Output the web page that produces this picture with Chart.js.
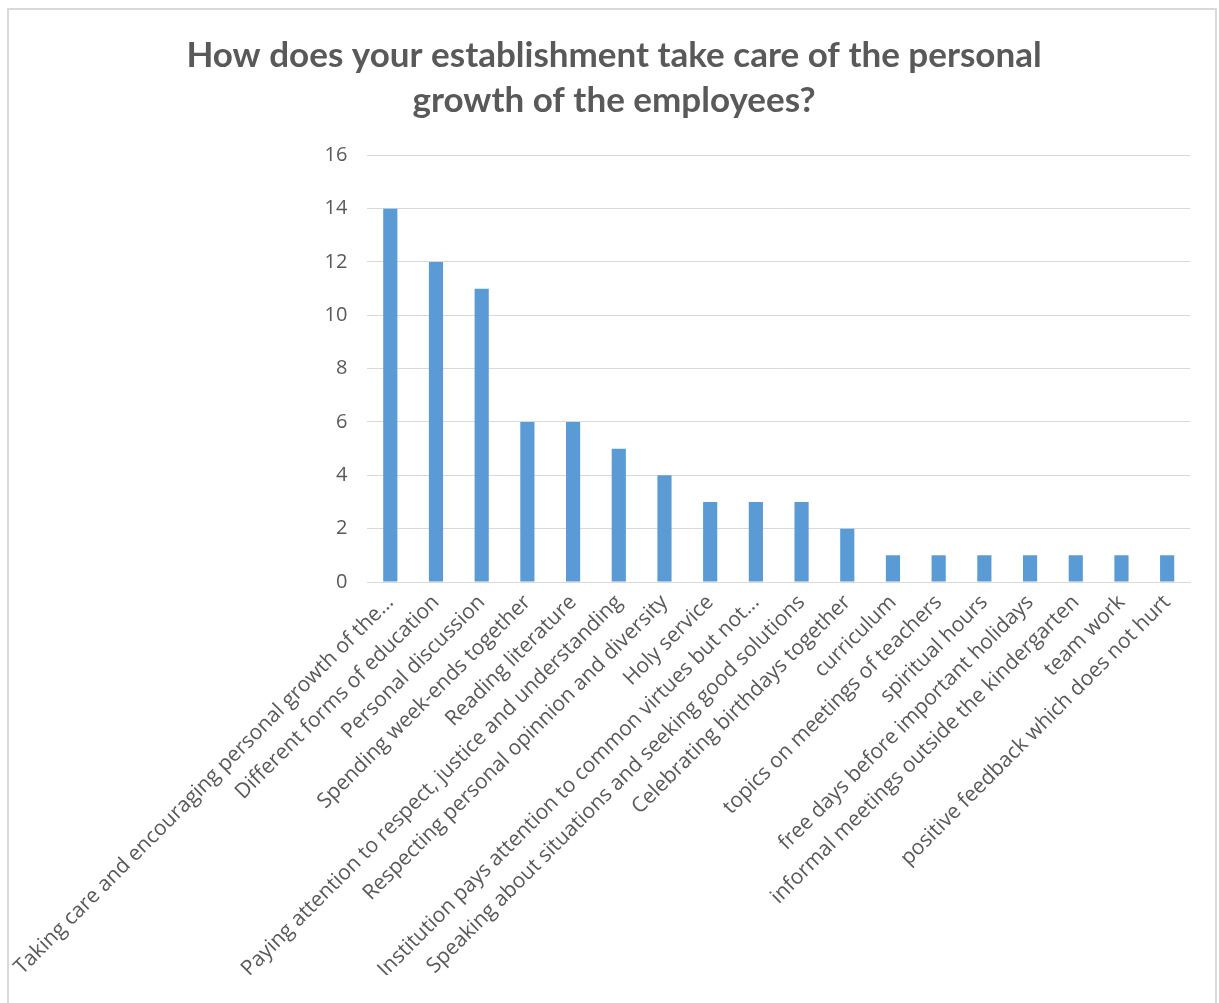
<!DOCTYPE html>
<html>
<head>
<meta charset="utf-8">
<script src="https://cdn.jsdelivr.net/npm/chart.js@4/dist/chart.umd.min.js"></script>
<style>
  html, body { margin: 0; padding: 0; background: #ffffff; }
  #wrap { position: relative; width: 1219px; height: 1003px; overflow: hidden; }
  #frame { position: absolute; left: 7px; top: 8px; width: 1210px; height: 1100px; border: 2px solid #d9d9d9; box-sizing: border-box; }
  canvas { position: absolute; left: 0; top: 0; }
</style>
</head>
<body>
<div id="wrap">
  <div id="frame"></div>
  <canvas id="c" width="1219" height="1003"></canvas>
</div>
<script>
const titleLines = ["How does your establishment take care of the personal", "growth of the employees?"];
const categories = [
  "Taking care and encouraging personal growth of the...",
  "Different forms of education",
  "Personal discussion",
  "Spending week-ends together",
  "Reading literature",
  "Paying attention to respect, justice and understanding",
  "Respecting personal opinnion and diversity",
  "Holy service",
  "Institution pays attention to common virtues but not...",
  "Speaking about situations and seeking good solutions",
  "Celebrating birthdays together",
  "curriculum",
  "topics on meetings of teachers",
  "spiritual hours",
  "free days before important holidays",
  "informal meetings outside the kindergarten",
  "team work",
  "positive feedback which does not hurt"
];
const counts = [14, 12, 11, 6, 6, 5, 4, 3, 3, 3, 2, 1, 1, 1, 1, 1, 1, 1];
const yTicks = [0, 2, 4, 6, 8, 10, 12, 14, 16];

new Chart(document.getElementById('c'), {
  type: 'bar',
  data: {
    labels: categories,
    datasets: [{
      data: counts,
      backgroundColor: '#5b9bd5',
      borderWidth: 0,
      barPercentage: 0.31,
      categoryPercentage: 1.0
    }]
  },
  options: {
    responsive: false,
    animation: false,
    layout: { padding: { top: 12, right: 29, bottom: 28, left: 38 } },
    plugins: {
      legend: { display: false },
      tooltip: { enabled: false },
      title: {
        display: true,
        text: titleLines,
        color: '#595959',
        font: { family: 'Lato', size: 35, weight: 'bold', lineHeight: 1.29 },
        padding: { top: 21, bottom: 32 }
      }
    },
    scales: {
      x: {
        grid: { display: false, drawTicks: false },
        border: { color: '#d9d9d9', width: 1 },
        afterFit: (axis) => { axis.height = 393; },
        ticks: {
          color: '#595959',
          font: { family: 'Open Sans', size: 21 },
          minRotation: 45,
          maxRotation: 45,
          autoSkip: false,
          padding: 8
        }
      },
      y: {
        min: 0,
        max: 16,
        afterBuildTicks: (axis) => { axis.ticks = yTicks.map(v => ({ value: v })); },
        afterFit: (axis) => { axis.width = 325; },
        grid: { color: '#d9d9d9', lineWidth: 1, drawTicks: false },
        border: { display: false },
        ticks: {
          color: '#595959',
          font: { family: 'Open Sans', size: 20 },
          padding: 20
        }
      }
    }
  }
});
</script>
</body>
</html>
